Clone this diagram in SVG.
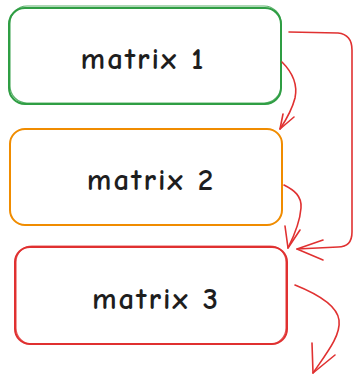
<svg xmlns="http://www.w3.org/2000/svg" width="356" height="377" viewBox="0 0 356 377">
  <style>
    .box { fill: #ffffff; stroke-width: 2; stroke-linecap: round; stroke-linejoin: round; }
    .box2 { fill: none; stroke-width: 1.2; stroke-linecap: round; opacity: 0.8; }
    .label { font-family: "Comic Neue", "Noto Sans", "Liberation Sans", sans-serif; font-size: 31px; font-weight: bold; fill: #1e1e1e; text-anchor: middle; dominant-baseline: central; letter-spacing: 2px; }
    .conn { fill: none; stroke: #e03131; stroke-width: 1.6; stroke-linecap: round; stroke-linejoin: round; }
  </style>

  <g id="matrix1">
    <rect class="box" x="9" y="8" width="272" height="96" rx="16" stroke="#2f9e44"/>
    <rect class="box2" x="10" y="6" width="271" height="97" rx="17" stroke="#2f9e44"/>
    <text class="label" x="143" y="59">matrix 1</text>
  </g>

  <g id="matrix2">
    <rect class="box" x="10" y="129" width="272" height="96" rx="15" stroke="#f08c00" stroke-width="2.4"/>
    <text class="label" x="151" y="180">matrix 2</text>
  </g>

  <g id="matrix3">
    <rect class="box" x="15" y="247" width="272" height="97" rx="15" stroke="#e03131"/>
    <rect class="box2" x="16" y="246" width="270" height="98" rx="16" stroke="#e03131"/>
    <text class="label" x="156" y="299">matrix 3</text>
  </g>

  <g id="connectors">
    <!-- matrix 1 to matrix 2 -->
    <path class="conn" d="M282 62 C292 72 298 84 295 98 C292 110 286 120 280 129"/>
    <path class="conn" d="M280 129 L283 114 M280 129 L294 117"/>
    <!-- matrix 1 around to matrix 3 -->
    <path class="conn" d="M289 32 L338 33 C348 34 352 40 352 50 L352 232 C352 242 348 247 338 247 L297 249"/>
    <path class="conn" d="M297 249 L323 240 M297 249 L323 260"/>
    <!-- matrix 2 to matrix 3 -->
    <path class="conn" d="M284 185 C294 190 302 196 301 208 C300 222 294 236 288 248"/>
    <path class="conn" d="M288 248 L285 226 M288 248 L300 230"/>
    <!-- matrix 3 outgoing -->
    <path class="conn" d="M295 285 C315 293 337 305 339 320 C341 336 326 354 313 373"/>
    <path class="conn" d="M313 373 L312 343 M313 373 L335 355"/>
  </g>
</svg>
